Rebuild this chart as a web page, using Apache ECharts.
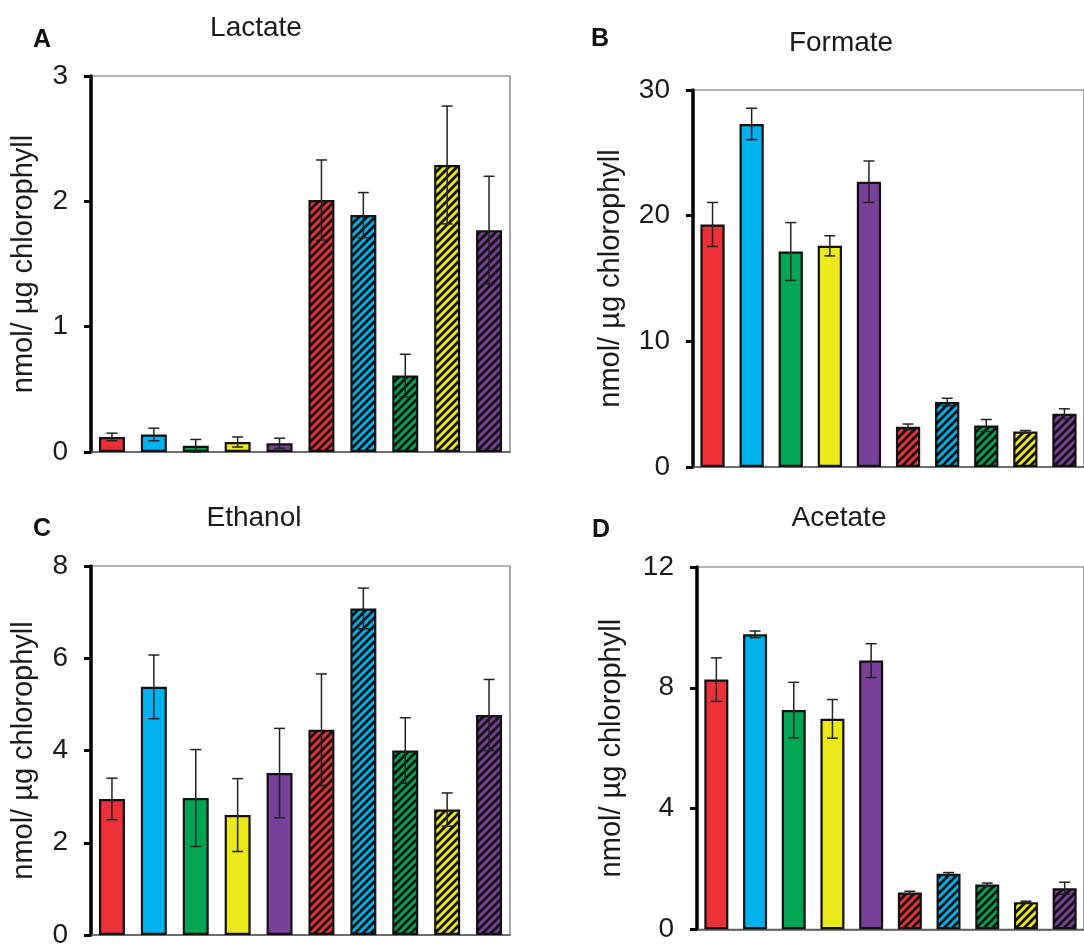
<!DOCTYPE html>
<html>
<head>
<meta charset="utf-8">
<script src="https://cdn.jsdelivr.net/npm/echarts@6/dist/echarts.min.js"></script>
<style>
  html, body { margin: 0; padding: 0; background: #fff; }
  #chart { width: 1084px; height: 949px; }
</style>
</head>
<body>
<div id="chart"></div>
<script>
// ---------------- data ----------------
const categories = ['S1', 'S2', 'S3', 'S4', 'S5', 'S1 (h)', 'S2 (h)', 'S3 (h)', 'S4 (h)', 'S5 (h)'];
const hatched = [false, false, false, false, false, true, true, true, true, true];

const lactate    = [0.12, 0.14, 0.05, 0.08, 0.07, 2.01, 1.89, 0.61, 2.29, 1.77];
const lactateErr = [0.03, 0.05, 0.05, 0.04, 0.04, 0.32, 0.18, 0.17, 0.47, 0.43];
const lactateTicks = [0, 1, 2, 3];

const formate    = [19.3, 27.3, 17.15, 17.6, 22.7, 3.2, 5.17, 3.3, 2.82, 4.23];
const formateErr = [1.75, 1.25, 2.3, 0.8, 1.65, 0.22, 0.3, 0.48, 0.08, 0.4];
const formateTicks = [0, 10, 20, 30];

const ethanol    = [2.95, 5.38, 2.97, 2.60, 3.51, 4.45, 7.08, 4.00, 2.72, 4.77];
const ethanolErr = [0.45, 0.69, 1.05, 0.79, 0.97, 1.21, 0.44, 0.71, 0.36, 0.77];
const ethanolTicks = [0, 2, 4, 6, 8];

const acetate    = [8.27, 9.77, 7.26, 6.97, 8.90, 1.22, 1.84, 1.48, 0.90, 1.36];
const acetateErr = [0.72, 0.11, 0.92, 0.64, 0.56, 0.04, 0.04, 0.05, 0.03, 0.20];
const acetateTicks = [0, 4, 8, 12];

const panelTitles = ['Lactate', 'Formate', 'Ethanol', 'Acetate'];
const panelLetters = ['A', 'B', 'C', 'D'];
const yAxisName = 'nmol/ µg chlorophyll';

// ---------------- styles ----------------
const palette = ['#ED3237', '#00B2EE', '#00A651', '#EDE81A', '#7A3F98',
                 '#ED3237', '#00B2EE', '#00A651', '#EDE81A', '#7A3F98'];
const FONT = 'Liberation Sans, Arial, Helvetica, sans-serif';

function hatch(color) {
  const s = 8;
  const c = document.createElement('canvas');
  c.width = s; c.height = s;
  const g = c.getContext('2d');
  g.fillStyle = color; g.fillRect(0, 0, s, s);
  g.strokeStyle = '#111'; g.lineWidth = 2.8; g.lineCap = 'square';
  g.beginPath();
  g.moveTo(-1, s + 1); g.lineTo(s + 1, -1);
  g.moveTo(-2, 2); g.lineTo(2, -2);
  g.moveTo(s - 2, s + 2); g.lineTo(s + 2, s - 2);
  g.stroke();
  return { image: c, repeat: 'repeat' };
}

const panels = [
  { vals: lactate, errs: lactateErr, ticks: lactateTicks,
    grid: { left: 91, top: 76, width: 419, height: 376 }, nameGap: 53 },
  { vals: formate, errs: formateErr, ticks: formateTicks,
    grid: { left: 693, top: 90, width: 405, height: 377 }, nameGap: 68 },
  { vals: ethanol, errs: ethanolErr, ticks: ethanolTicks,
    grid: { left: 91, top: 566, width: 419, height: 375.5 }, nameGap: 53 },
  { vals: acetate, errs: acetateErr, ticks: acetateTicks,
    grid: { left: 697, top: 567, width: 398, height: 362.3 }, nameGap: 71 }
];

const titlePos = [[256, 28], [841, 43], [254, 518], [839, 518]];
const letterPos = [[42, 40], [600, 39], [42, 529], [601, 530]];

function renderErr(params, api) {
  const x = api.value(0), y = api.value(1), e = api.value(2);
  const hi = api.coord([x, y + e]);
  const lo = api.coord([x, y - e]);
  const hw = 5.5;
  const st = { stroke: '#222', lineWidth: 1.5 };
  return {
    type: 'group',
    children: [
      { type: 'line', shape: { x1: hi[0], y1: hi[1], x2: lo[0], y2: lo[1] }, style: st },
      { type: 'line', shape: { x1: hi[0] - hw, y1: hi[1], x2: hi[0] + hw, y2: hi[1] }, style: st },
      { type: 'line', shape: { x1: lo[0] - hw, y1: lo[1], x2: lo[0] + hw, y2: lo[1] }, style: st }
    ]
  };
}

const grids = [], xAxes = [], yAxes = [], series = [], graphics = [];
panels.forEach((p, i) => {
  grids.push(Object.assign({ show: true, borderColor: '#6a6a6a', borderWidth: 1.2,
                              backgroundColor: 'transparent' }, p.grid));
  xAxes.push({
    type: 'category', gridIndex: i, data: categories, boundaryGap: true,
    axisLine: { show: true, lineStyle: { color: '#555', width: 1.5 } },
    axisTick: { show: false }, axisLabel: { show: false }, splitLine: { show: false }
  });
  const t = p.ticks;
  yAxes.push({
    type: 'value', gridIndex: i,
    min: t[0], max: t[t.length - 1], interval: t[1] - t[0],
    axisLine: { show: true, lineStyle: { color: '#000', width: 3.5 } },
    axisTick: { show: true, inside: false, length: 7, lineStyle: { color: '#000', width: 3 } },
    axisLabel: { show: true, margin: 23, fontSize: 28, color: '#1a1a1a', fontFamily: FONT },
    splitLine: { show: false },
    name: yAxisName, nameLocation: 'middle', nameRotate: 90, nameGap: p.nameGap,
    nameTextStyle: { fontSize: 29, color: '#1a1a1a', fontFamily: FONT }
  });
  series.push({
    type: 'bar', xAxisIndex: i, yAxisIndex: i, barCategoryGap: '38%',
    data: p.vals.map((v, k) => ({
      value: v,
      itemStyle: {
        color: hatched[k] ? hatch(palette[k]) : palette[k],
        borderColor: '#111', borderWidth: 2.2
      }
    })),
    silent: true, animation: false, z: 2
  });
  series.push({
    type: 'custom', xAxisIndex: i, yAxisIndex: i,
    data: p.vals.map((v, k) => [k, v, p.errs[k]]),
    renderItem: renderErr, silent: true, animation: false, z: 5
  });
  graphics.push({
    type: 'text', x: titlePos[i][0], y: titlePos[i][1],
    style: { text: panelTitles[i], fontSize: 28, fontFamily: FONT, fill: '#1a1a1a',
             textAlign: 'center', textVerticalAlign: 'middle' }
  });
  graphics.push({
    type: 'text', x: letterPos[i][0], y: letterPos[i][1],
    style: { text: panelLetters[i], fontSize: 25, fontWeight: 'bold', fontFamily: FONT, fill: '#111',
             textAlign: 'center', textVerticalAlign: 'middle' }
  });
});

const chart = echarts.init(document.getElementById('chart'), null, { renderer: 'canvas' });
chart.setOption({
  backgroundColor: '#fff',
  animation: false,
  grid: grids, xAxis: xAxes, yAxis: yAxes, series: series, graphic: graphics
});
</script>
</body>
</html>
